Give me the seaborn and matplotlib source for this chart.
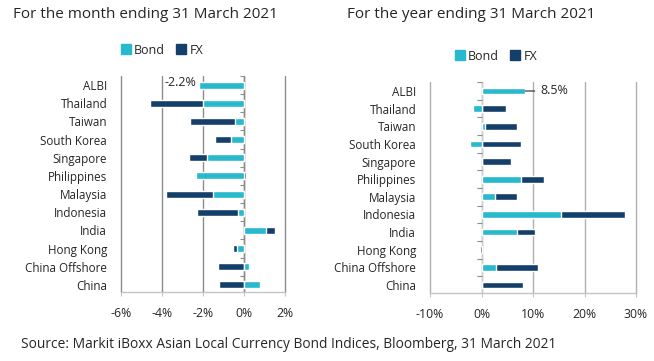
import matplotlib
matplotlib.use("Agg")
import matplotlib.pyplot as plt
import seaborn as sns
import pandas as pd
import numpy as np
from matplotlib.patches import Patch

sns.set_theme(style="white")
plt.rcParams['font.family'] = ['Open Sans', 'DejaVu Sans']

categories = ["ALBI", "Thailand", "Taiwan", "South Korea", "Singapore", "Philippines",
              "Malaysia", "Indonesia", "India", "Hong Kong", "China Offshore", "China"]

month_bond = [-2.2, -2.0, -0.45, -0.65, -1.8, -2.35, -1.5, -0.3, 1.05, -0.35, 0.25, 0.8]
month_fx = [0.0, -2.6, -2.2, -0.75, -0.9, 0.12, -2.3, -2.0, 0.45, -0.2, -1.25, -1.2]

year_bond = [8.5, -1.6, 0.6, -2.2, 0.0, 7.7, 2.7, 15.5, 6.9, 0.0, 2.9, 0.0]
year_fx = [0.0, 4.8, 6.2, 7.7, 5.8, 4.5, 4.2, 12.3, 3.4, -0.3, 8.0, 8.1]

month_ticks = [-6, -4, -2, 0, 2]
year_ticks = [-10, 0, 10, 20, 30]

BOND = "#29b9cc"
FX = "#153f6b"
TXT = "#262626"

fig = plt.figure(figsize=(6.54, 3.61), dpi=100)
axL = fig.add_axes([121/654, 1-292/361, (285-121)/654, (292-76)/361])
axR = fig.add_axes([430/654, 1-293/361, (636-430)/654, (293-82)/361])


def draw(ax, bond, fx, ticks, ylim, tick_len, grid_color, zero_color):
    bond = np.array(bond, dtype=float)
    fx = np.array(fx, dtype=float)
    same = np.sign(bond) == np.sign(fx)
    fx_end = fx + np.where(same, bond, 0.0)
    df = pd.DataFrame({"cat": categories, "bond": bond, "fx_end": fx_end})
    sns.barplot(data=df, y="cat", x="fx_end", color=FX, orient="h", width=0.38,
                ax=ax, saturation=1, zorder=2)
    sns.barplot(data=df, y="cat", x="bond", color=BOND, orient="h", width=0.38,
                ax=ax, saturation=1, zorder=3)
    ax.set_xlim(ticks[0], ticks[-1])
    ax.set_ylim(*ylim)
    ax.set_xticks(ticks)
    ax.set_xticklabels([f"{t}%" for t in ticks])
    ax.set_axisbelow(True)
    ax.xaxis.grid(True, color=grid_color, linewidth=1.0, linestyle="-")
    for gl in ax.xaxis.get_gridlines():
        gl.set_clip_on(False)
    ax.axvline(0, color=zero_color, lw=1.0, zorder=1.5)
    n = len(categories)
    ax.hlines(np.arange(n + 1) - 0.5, -tick_len, 0, color="#8c8c8c", lw=0.8, zorder=4)
    ax.set_xlabel("")
    ax.set_ylabel("")
    for s in ["top", "right", "left"]:
        ax.spines[s].set_visible(False)
    ax.spines["bottom"].set_color("#c4c4c4")
    ax.spines["bottom"].set_linewidth(1.0)
    ax.tick_params(axis="x", length=3, width=0.8, color="#c4c4c4", labelsize=8.8,
                   labelcolor=TXT, pad=7.5, direction="out", bottom=True)
    ax.tick_params(axis="y", length=0, labelsize=8.4, labelcolor=TXT, pad=10)
    ax.legend(handles=[Patch(color=BOND, label="Bond"), Patch(color=FX, label="FX")],
              ncol=2, frameon=False, loc="center", fontsize=9,
              handlelength=0.8, handleheight=0.8, handletextpad=0.25,
              columnspacing=0.9, labelcolor=TXT)


draw(axL, month_bond, month_fx, month_ticks, (11.39, -0.5), 0.2, "#8c8c8c", "#8c8c8c")
draw(axR, year_bond, year_fx, year_ticks, (11.45, -0.51), 0.8, "#b0b0b0", "#d0d0d0")

axL.legend_.set_bbox_to_anchor((162/654, 1-50/361), transform=fig.transFigure)
axR.legend_.set_bbox_to_anchor((496/654, 1-56/361), transform=fig.transFigure)

# annotations
mtot = month_bond[0] + month_fx[0]
axL.annotate(f"{mtot:.1f}%", xy=(mtot, 0), xytext=(-2, 1.5), textcoords="offset points",
             ha="right", va="center", fontsize=9, color=TXT)
tot = year_bond[0] + year_fx[0]
axR.annotate(f"{tot:.1f}%", xy=(tot, 0), xytext=(tot + 3.0, 0),
             ha="left", va="center", fontsize=9, color=TXT,
             arrowprops=dict(arrowstyle="-", color=TXT, lw=0.8, shrinkA=2, shrinkB=0))

fig.text(13/654, 1-14/361, "For the month ending 31 March 2021", fontsize=11,
         color=TXT, ha="left", va="center")
fig.text(347/654, 1-14/361, "For the year ending 31 March 2021", fontsize=11,
         color=TXT, ha="left", va="center")
fig.text(21/654, 1-345/361,
         "Source: Markit iBoxx Asian Local Currency Bond Indices, Bloomberg, 31 March 2021",
         fontsize=9.9, color=TXT, ha="left", va="center")

fig.savefig("out.png", dpi=100, facecolor="white")
